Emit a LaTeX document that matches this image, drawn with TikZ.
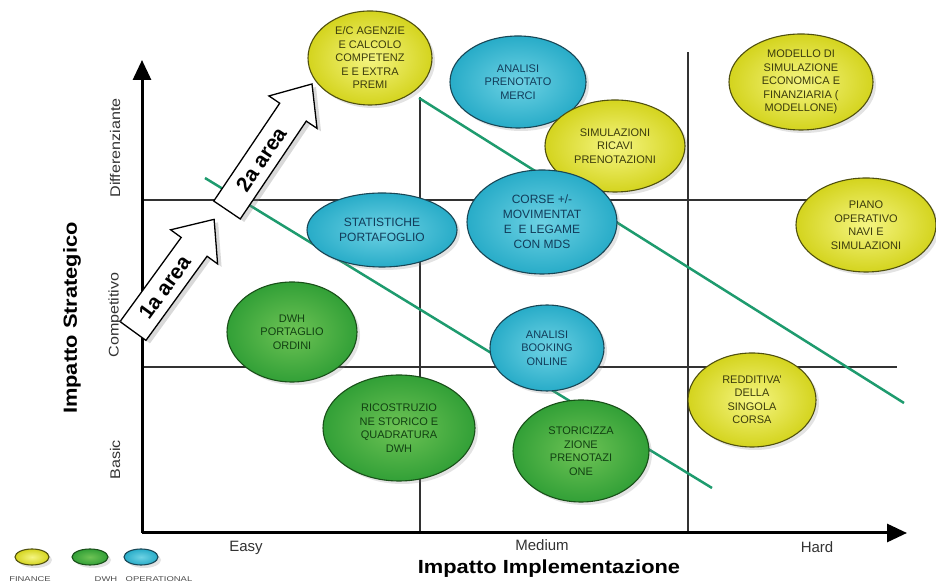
\documentclass[tikz,border=0pt]{standalone}
\usepackage{fontspec}
\setmainfont{Liberation Sans}
\usetikzlibrary{shapes.geometric,arrows.meta,shadows}
\definecolor{finin}{RGB}{245,245,130}
\definecolor{finout}{RGB}{212,212,30}
\definecolor{finline}{RGB}{80,80,15}
\definecolor{fintext}{RGB}{60,60,12}
\definecolor{dwhin}{RGB}{110,195,85}
\definecolor{dwhout}{RGB}{50,160,55}
\definecolor{dwhline}{RGB}{25,80,25}
\definecolor{dwhtext}{RGB}{18,65,18}
\definecolor{opin}{RGB}{110,210,228}
\definecolor{opout}{RGB}{40,172,200}
\definecolor{opline}{RGB}{25,70,85}
\definecolor{optext}{RGB}{18,60,90}
\definecolor{trend}{RGB}{30,155,110}
\definecolor{gridc}{RGB}{50,50,50}
\begin{document}
\begin{tikzpicture}[x=1pt,y=1pt,
  bub/.style={ellipse, line width=1.1pt, inner sep=0pt, align=center,
    font=\fontsize{11}{13.5}\selectfont,
    drop shadow={shadow xshift=3pt,shadow yshift=-3pt,opacity=0.22}},
  fin/.style={bub, shading=radial, inner color=finin, outer color=finout, draw=finline, text=fintext},
  dwh/.style={bub, shading=radial, inner color=dwhin, outer color=dwhout, draw=dwhline, text=dwhtext},
  oper/.style={bub, shading=radial, inner color=opin, outer color=opout, draw=opline, text=optext},
  axisline/.style={line width=3pt, -{Triangle[length=20pt,width=18pt]}},
  gridline/.style={line width=1.2pt, gridc},
  trendline/.style={line width=2.5pt, trend},
  blockarrow/.style={draw=black, line width=1.3pt, fill=white,
    drop shadow={shadow xshift=4pt,shadow yshift=-3pt,opacity=0.3}},
  arrowtext/.style={font=\fontsize{21}{24}\selectfont\bfseries, transform shape, inner sep=0pt},
  ticklab/.style={text=gridc, font=\fontsize{15}{17}\selectfont},
  legtext/.style={text=black!70, font=\fontsize{7}{8}\selectfont}
]
\useasboundingbox (0,0) rectangle (936,585);

% grid lines
\draw[gridline] (142,385) -- (905,385);
\draw[gridline] (142,218) -- (897,218);
\draw[gridline] (420,52) -- (420,488);
\draw[gridline] (688,52) -- (688,533);

% trend lines
\coordinate (t1a) at (205,407);
\coordinate (t1b) at (712,97);
\coordinate (t2a) at (419,487);
\coordinate (t2b) at (904,182);
\draw[trendline] (t1a) -- (t1b);
\draw[trendline] (t2a) -- (t2b);

% axes
\coordinate (O) at (142,52);
\coordinate (ytip) at (142,525);
\coordinate (xtip) at (907,52);
\draw[axisline] (O) -- (ytip);
\draw[axisline] (O) -- (xtip);

% block arrows
\begin{scope}[shift={(133,254)}, rotate=54]
  \draw[blockarrow] (0,-16) -- (104,-16) -- (104,-29) -- (138,0) -- (104,29) -- (104,16) -- (0,16) -- cycle;
  \node[arrowtext] (area1) at (54,0) {1a area};
\end{scope}
\begin{scope}[shift={(227,375)}, rotate=56]
  \draw[blockarrow] (0,-16) -- (118,-16) -- (118,-29) -- (152,0) -- (118,29) -- (118,16) -- (0,16) -- cycle;
  \node[arrowtext] (area2) at (61,0) {2a area};
\end{scope}

% bubbles
\node[fin, minimum width=124, minimum height=94] (ec) at (370,527) {E/C AGENZIE\\E CALCOLO\\COMPETENZ\\E E EXTRA\\PREMI};
\node[oper, minimum width=136, minimum height=92] (apm) at (518,503) {ANALISI\\PRENOTATO\\MERCI};
\node[fin, minimum width=140, minimum height=92] (sim) at (615,439) {SIMULAZIONI\\RICAVI\\PRENOTAZIONI};
\node[fin, minimum width=144, minimum height=96] (mod) at (801,503) {MODELLO DI\\SIMULAZIONE\\ECONOMICA E\\FINANZIARIA (\\MODELLONE)};
\node[fin, minimum width=140, minimum height=94] (piano) at (866,360) {PIANO\\OPERATIVO\\NAVI E\\SIMULAZIONI};
\node[oper, minimum width=150, minimum height=74, font=\fontsize{12}{15}\selectfont] (stat) at (382,355) {STATISTICHE\\PORTAFOGLIO};
\node[oper, minimum width=150, minimum height=104, font=\fontsize{12}{15}\selectfont] (corse) at (542,363) {CORSE +/-\\MOVIMENTAT\\E \ E LEGAME\\CON MDS};
\node[dwh, minimum width=130, minimum height=100] (dwhp) at (292,253) {DWH\\PORTAGLIO\\ORDINI};
\node[oper, minimum width=114, minimum height=86] (book) at (547,237) {ANALISI\\BOOKING\\ONLINE};
\node[dwh, minimum width=152, minimum height=106] (rico) at (399,157) {RICOSTRUZIO\\NE STORICO E\\QUADRATURA\\DWH};
\node[dwh, minimum width=136, minimum height=102] (stor) at (581,134) {STORICIZZA\\ZIONE\\PRENOTAZI\\ONE};
\node[fin, minimum width=128, minimum height=94] (redd) at (752,185) {REDDITIVA'\\DELLA\\SINGOLA\\CORSA};

% axis labels
\node[ticklab] (easy) at (246,37) {Easy};
\node[ticklab] (medium) at (542,40) {Medium};
\node[ticklab] (hard) at (817,38) {Hard};
\node[font=\fontsize{19}{22}\selectfont\bfseries] (xlab) at (549,16) {\scalebox{1.15}[1]{Impatto Implementazione}};
\node[rotate=90, font=\fontsize{19}{22}\selectfont\bfseries] (ylab) at (72,267) {\scalebox{1.15}[1]{Impatto Strategico}};
\node[ticklab, rotate=90, font=\fontsize{14}{16}\selectfont] (diff) at (115,437) {\scalebox{1.15}[1]{Differenziante}};
\node[ticklab, rotate=90, font=\fontsize{14}{16}\selectfont] (comp) at (115,270) {\scalebox{1.15}[1]{Competitivo}};
\node[ticklab, rotate=90, font=\fontsize{14}{16}\selectfont] (basic) at (115,125) {\scalebox{1.15}[1]{Basic}};

% legend
\node[fin, minimum width=34, minimum height=16] (lfin) at (32,28) {};
\node[dwh, minimum width=36, minimum height=16] (ldwh) at (90,28) {};
\node[oper, minimum width=34, minimum height=16] (lop) at (141,28) {};
\node[legtext] (lfint) at (30,6) {\scalebox{1.35}[1]{FINANCE}};
\node[legtext] (ldwht) at (106,6) {\scalebox{1.35}[1]{DWH}};
\node[legtext] (lopt) at (159,6) {\scalebox{1.35}[1]{OPERATIONAL}};
\end{tikzpicture}
\end{document}
